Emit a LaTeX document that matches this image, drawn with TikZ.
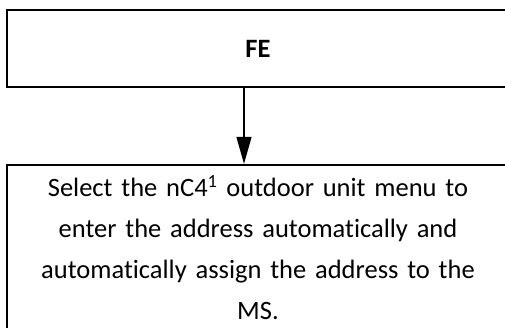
\documentclass[tikz,border=0pt]{standalone}
\usepackage{fontspec}
\setmainfont{Carlito}[Ligatures=NoCommon]
\usetikzlibrary{arrows.meta, positioning}

\tikzset{
  flowbox/.style={draw, line width=1.8pt, inner sep=0pt, align=center,
    minimum width=502pt, font=\fontsize{26.5}{41}\selectfont},
  flowarrow/.style={-{Triangle[length=27pt, width=15pt]}, line width=1.3pt},
}

\begin{document}
\begin{tikzpicture}[x=1pt, y=-1pt]
\useasboundingbox (0,0) rectangle (505,327);
\clip (0,0) rectangle (505,327);

\node[flowbox, minimum height=77pt,
  font=\bfseries\fontsize{26.5}{41}\selectfont] (fe) at (258,48.5) {FE};
\node[flowbox, minimum height=166pt, text width=496pt,
  below=76pt of fe] (assign)
  {Select the nC4\textsuperscript{1} outdoor unit menu to\\
   enter the address automatically and\\
   automatically assign the address to the\\
   MS.};

\coordinate (drop) at (244,0);
\draw[flowarrow] (fe.south -| drop) -- (assign.north -| drop);
\end{tikzpicture}
\end{document}
